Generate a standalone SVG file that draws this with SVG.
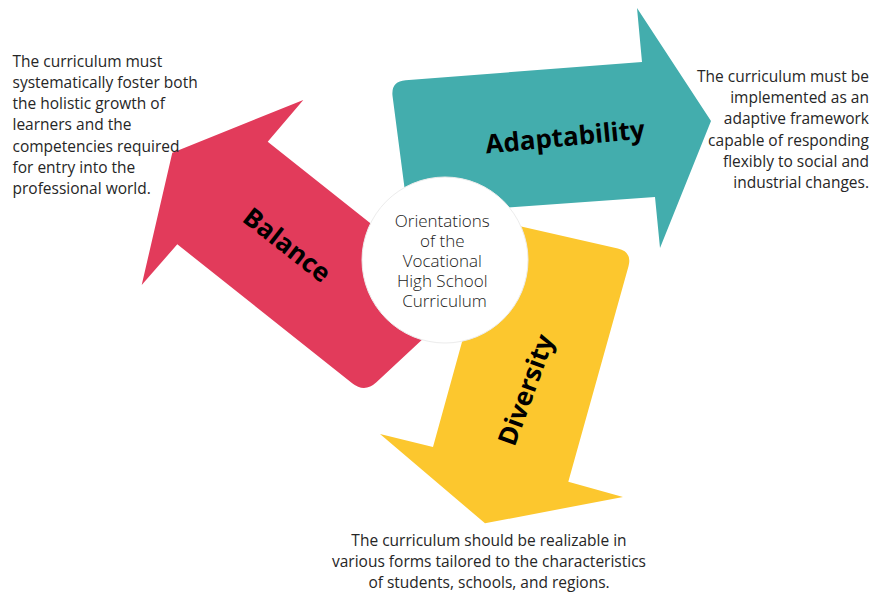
<svg xmlns="http://www.w3.org/2000/svg" width="874" height="593" viewBox="0 0 874 593">
  <style>
    .body { font-family: "Open Sans", "Noto Sans", "Liberation Sans", sans-serif; font-size: 15.5px; fill: #262626; }
    .label { font-family: "Open Sans", "Noto Sans", "Liberation Sans", sans-serif; font-size: 26px; font-weight: 700; fill: #000; text-anchor: middle; }
    .center { font-family: "Open Sans", "Noto Sans", "Liberation Sans", sans-serif; font-size: 17px; font-weight: 300; fill: #1a1a1a; text-anchor: middle; }
  </style>
  <rect width="874" height="593" fill="#ffffff"/>

  <g id="node-balance">
    <path d="M172.3,152.7 L303.3,100 L267.7,141.7 L400,246.8 L440,323 L376.4,382.2 Q364.7,393.1 352.2,383.2 L177.3,244.3 L141.7,285 Z" fill="#E23B5B"/>
    <text class="label" transform="translate(287,245) rotate(38)" y="9">Balance</text>
  </g>

  <g id="node-adaptability">
    <path d="M392.6,96.5 Q390.6,81.5 405.6,80.3 L642,62 L637,8 L711,121 L660,248 L655,197 L408,214.5 Z" fill="#43ADAD"/>
    <text class="label" transform="translate(565,137) rotate(-5.5)" y="9">Adaptability</text>
  </g>

  <g id="node-diversity">
    <path d="M480,217.2 L617.8,248.5 Q632.4,251.8 628.5,266.3 L568.3,481.7 L623,497 L485,523.3 L380,434 L433,447 L473.6,300 Z" fill="#FCC72E"/>
    <text class="label" transform="translate(526,390) rotate(-70)" y="9">Diversity</text>
  </g>

  <g id="node-center">
    <circle cx="445" cy="260" r="83" fill="#ffffff" stroke="#ececec" stroke-width="1"/>
    <text class="center">
      <tspan x="444.5" y="226.7">Orientations</tspan>
      <tspan x="444.5" y="246.9">of the</tspan>
      <tspan x="444.5" y="267.1">Vocational</tspan>
      <tspan x="444.5" y="287.3">High School</tspan>
      <tspan x="444.5" y="307.3">Curriculum</tspan>
    </text>
  </g>

  <g id="desc-balance">
    <text class="body" x="12.5" y="66.5">The curriculum must</text>
    <text class="body" x="12.5" y="87.8">systematically foster both</text>
    <text class="body" x="12.5" y="109.1">the holistic growth of</text>
    <text class="body" x="12.5" y="130.4">learners and the</text>
    <text class="body" x="12.5" y="151.7">competencies required</text>
    <text class="body" x="12.5" y="173">for entry into the</text>
    <text class="body" x="12.5" y="194.3">professional world.</text>
  </g>

  <g id="desc-adaptability" text-anchor="end">
    <text class="body" x="869" y="82">The curriculum must be</text>
    <text class="body" x="869" y="103.2">implemented as an</text>
    <text class="body" x="869" y="124.4">adaptive framework</text>
    <text class="body" x="869" y="145.6">capable of responding</text>
    <text class="body" x="869" y="166.8">flexibly to social and</text>
    <text class="body" x="869" y="188">industrial changes.</text>
  </g>

  <g id="desc-diversity" text-anchor="middle">
    <text class="body" x="489" y="545.7">The curriculum should be realizable in</text>
    <text class="body" x="489" y="566.7">various forms tailored to the characteristics</text>
    <text class="body" x="489" y="587.7">of students, schools, and regions.</text>
  </g>
</svg>
